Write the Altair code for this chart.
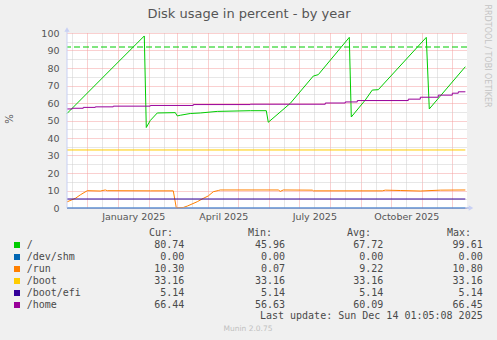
import altair as alt
import pandas as pd

# ---------------- data ----------------
series_names = ["/", "/dev/shm", "/run", "/boot", "/boot/efi", "/home"]
series_colors = ["#00cc00", "#0066b3", "#ff8000", "#ffcc00", "#330099", "#990099"]

cur_values = [80.74, 0.00, 10.30, 33.16, 5.14, 66.44]
min_values = [45.96, 0.00, 0.07, 33.16, 5.14, 56.63]
avg_values = [67.72, 0.00, 9.22, 33.16, 5.14, 60.09]
max_values = [99.61, 0.00, 10.80, 33.16, 5.14, 66.45]

start_time = "2024-11-10T17:00"
last_time = "2025-12-14T01:05"
end_time = "2025-12-15T17:00"

root_dates = [start_time, "2024-12-19", "2025-01-27", "2025-01-29", "2025-02-02",
              "2025-02-09", "2025-02-27", "2025-03-01", "2025-03-04", "2025-03-14",
              "2025-03-24", "2025-04-10", "2025-05-13", "2025-05-29", "2025-05-31",
              "2025-06-22", "2025-07-15", "2025-07-20", "2025-08-20", "2025-08-22",
              "2025-09-05", "2025-09-12", "2025-09-18", "2025-11-05", "2025-11-08",
              last_time]
root_values = [54.0, 76.0, 98.3, 46.0, 50.0,
               54.3, 54.5, 52.6, 53.0, 54.0,
               54.3, 55.2, 55.6, 55.6, 49.0,
               59.8, 75.4, 76.2, 97.5, 52.0,
               61.7, 67.4, 67.6, 97.5, 56.6,
               80.74]

run_dates = [start_time, "2024-11-19", "2024-11-24", "2024-12-01", "2024-12-14",
             "2024-12-19", "2024-12-21", "2025-02-02", "2025-02-25", "2025-02-28",
             "2025-03-07", "2025-03-11", "2025-03-21", "2025-03-27", "2025-04-01",
             "2025-04-06", "2025-04-11", "2025-04-13", "2025-06-10", "2025-06-12",
             "2025-06-15", "2025-07-14", "2025-07-15", "2025-09-22", "2025-09-25",
             "2025-10-10", "2025-10-30", "2025-11-19", last_time]
run_values = [3.5, 5.5, 7.5, 9.9, 9.7,
              10.3, 9.9, 9.8, 9.8, 0.1,
              0.3, 1.1, 3.6, 5.5, 6.9,
              9.3, 10.0, 10.3, 10.3, 9.5,
              10.3, 10.2, 9.8, 9.8, 10.2,
              10.0, 9.7, 10.2, 10.3]

home_dates = [start_time, "2024-11-16", "2024-11-27", "2024-12-09", "2024-12-27",
              "2025-02-02", "2025-03-17", "2025-05-13", "2025-07-27", "2025-08-16",
              "2025-08-28", "2025-10-18", "2025-10-30", "2025-11-17", "2025-12-01",
              "2025-12-07", last_time]
home_values = [56.6, 57.0, 57.5, 57.8, 58.2,
               58.6, 59.1, 59.3, 60.0, 60.6,
               61.4, 62.2, 63.3, 64.5, 65.6,
               66.4, 66.44]

flat_dates = [start_time, last_time]
shm_values = [0.0, 0.0]
boot_values = [33.16, 33.16]
efi_values = [5.14, 5.14]

warning_level = [92]
y_tick_values = list(range(0, 101, 5))

title_text = "Disk usage in percent - by year"
y_title = "%"
side_text = "RRDTOOL / TOBI OETIKER"
header_texts = ["Cur:", "Min:", "Avg:", "Max:"]
update_text = "Last update: Sun Dec 14 01:05:08 2025"
version_text = "Munin 2.0.75"


def to_ms(dates):
    return [pd.Timestamp(d, tz="UTC").value // 10**6 for d in dates]


# ---------------- tables ----------------
frames = []
for name, dates, vals in [
    ("/", root_dates, root_values),
    ("/dev/shm", flat_dates, shm_values),
    ("/run", run_dates, run_values),
    ("/boot", flat_dates, boot_values),
    ("/boot/efi", flat_dates, efi_values),
]:
    frames.append(pd.DataFrame({"series": name, "t": to_ms(dates), "value": vals}))
lines_df = pd.concat(frames, ignore_index=True)
home_df = pd.DataFrame({"series": "/home", "t": to_ms(home_dates), "value": home_values})
warn_df = pd.DataFrame({"value": warning_level})
zero_df = pd.DataFrame({"value": [0]})

legend_df = pd.DataFrame({"name": series_names, "cur": cur_values, "min": min_values,
                          "avg": avg_values, "max": max_values})

start_ms, end_ms = to_ms([start_time, end_time])
month_starts = pd.date_range("2024-12-01", "2025-12-01", freq="MS", tz="UTC")
mid_months = pd.date_range("2024-11-01", "2025-11-01", freq="MS", tz="UTC") + pd.Timedelta(days=15)
grid_ms = sorted([t.value // 10**6 for t in list(month_starts) + list(mid_months)])

# ---------------- encodings ----------------
MAJOR = "#f4a0a0"
MINOR = "#cfcfcf"
LABEL_COLOR = "#555555"

x_enc = alt.X(
    "t:T",
    scale=alt.Scale(type="utc", domain=[start_ms, end_ms], nice=False),
    axis=alt.Axis(
        values=grid_ms, title=None, ticks=False, domain=False,
        labelExpr="(utcdate(datum.value) == 16 && utcmonth(datum.value) % 3 == 0) ? utcFormat(datum.value, '%B %Y') : ''",
        labelOverlap=False, labelFlush=False, labelPadding=3,
        labelFont="DejaVu Sans", labelFontSize=9.5, labelColor=LABEL_COLOR,
        gridColor={"condition": {"test": "utcdate(datum.value) == 1", "value": MAJOR}, "value": MINOR},
        gridDash=[1, 1], gridWidth=1, gridOpacity=1,
    ),
)
y_axis = alt.Axis(
    values=y_tick_values, title=None, ticks=False, domain=False,
    labelExpr="datum.value % 10 === 0 ? datum.label : ''",
    labelOverlap=False, labelPadding=8,
    labelFont="DejaVu Sans", labelFontSize=9.5, labelColor=LABEL_COLOR,
    gridColor={"condition": {"test": "datum.value % 10 === 0", "value": MAJOR}, "value": MINOR},
    gridDash=[1, 1], gridWidth=1, gridOpacity=1,
)
y_scale = alt.Scale(domain=[0, 100], nice=False, zero=True)
y_enc = alt.Y("value:Q", scale=y_scale, axis=y_axis)
color_enc = alt.Color("series:N", scale=alt.Scale(domain=series_names, range=series_colors), legend=None)

lines = alt.Chart(lines_df).mark_line(strokeWidth=1).encode(
    x=x_enc, y=y_enc, color=color_enc, detail="series:N")
home = alt.Chart(home_df).mark_line(strokeWidth=1, interpolate="step-after").encode(
    x=x_enc, y=y_enc, color=color_enc)
warn = alt.Chart(warn_df).mark_rule(color="#00cc00", strokeWidth=1, strokeDash=[6, 3]).encode(y=y_enc)
zero_line = alt.Chart(zero_df).mark_rule(color="#8aa4e0", strokeWidth=1).encode(
    y=y_enc, x=alt.value(0), x2=alt.value(402))
left_axis = alt.Chart(zero_df).mark_rule(color="#c8d0f4", strokeWidth=1).encode(
    x=alt.value(0), y=alt.value(-3), y2=alt.value(175))
up_arrow = alt.Chart(zero_df).mark_point(shape="triangle-up", filled=True, size=28,
                                         color="#c8d0f4", opacity=1).encode(
    x=alt.value(0), y=alt.value(-3.5))
right_arrow = alt.Chart(zero_df).mark_point(shape="triangle-right", filled=True, size=28,
                                            color="#c8d0f4", opacity=1).encode(
    x=alt.value(404), y=alt.value(175))

plot = alt.layer(lines, home, warn, left_axis, zero_line, up_arrow, right_arrow)

# ---------------- texts ----------------
def label_layer(text, x, y, size, color, font="DejaVu Sans", align="center", angle=0, baseline="alphabetic"):
    return alt.Chart(pd.DataFrame({"label": [text]})).mark_text(
        font=font, fontSize=size, color=color, align=align, baseline=baseline, angle=angle
    ).encode(x=alt.value(x), y=alt.value(y), text="label:N")

title = label_layer(title_text, 182, -15.5, 13, "#555555")
ytitle = label_layer(y_title, -57, 86, 10, "#555555", angle=270, baseline="middle")
side = label_layer(side_text, 420, 23, 8, "#c4c4c4", angle=90, baseline="middle")

MONO = "DejaVu Sans Mono"
TXT = "#4a4a4a"
header_layers = [
    label_layer(h, hx, 199.5, 10, TXT, font=MONO, align="left", baseline="middle")
    for h, hx in zip(header_texts, [82, 181, 280, 380])
]
update = label_layer(update_text, 415.7, 283, 10, TXT, font=MONO, align="right", baseline="middle")
version = label_layer(version_text, 181, 296, 7.5, "#c0c0c0", baseline="middle")

y_leg = alt.Y("name:N", scale=alt.Scale(type="point", domain=series_names, range=[212, 272], padding=0),
              axis=None)
leg_base = alt.Chart(legend_df)
squares = leg_base.mark_square(size=36, opacity=1).encode(
    x=alt.value(-50), y=y_leg,
    color=alt.Color("name:N", scale=alt.Scale(domain=series_names, range=series_colors), legend=None))
leg_names = leg_base.mark_text(font=MONO, fontSize=10, color=TXT, align="left", baseline="middle").encode(
    x=alt.value(-40.3), y=y_leg, text="name:N")
value_layers = [
    leg_base.mark_text(font=MONO, fontSize=10, color=TXT, align="right", baseline="middle").encode(
        x=alt.value(vx), y=y_leg, text=alt.Text(f"{col}:Q", format=".2f"))
    for col, vx in zip(["cur", "min", "avg", "max"], [117.3, 218, 316.3, 415.7])
]

chart = alt.layer(
    plot, title, ytitle, side, *header_layers, update, version, squares, leg_names, *value_layers
).resolve_scale(y="independent", color="independent").properties(
    width=400, height=175,
    autosize=alt.AutoSizeParams(type="none"),
    padding={"left": 67, "top": 33, "right": 30, "bottom": 132},
).configure(background="#f0f0f0").configure_view(fill="white", stroke=None)

chart.save("out.html", embed_options={"renderer": "svg", "actions": False})
